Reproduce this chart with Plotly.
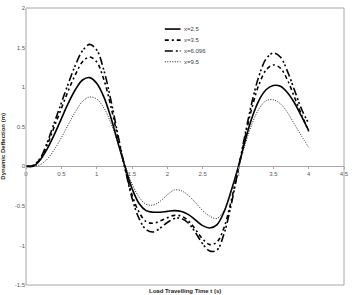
import plotly.graph_objects as go

t = [round(0.1 * i, 1) for i in range(41)]

s_2_5 = [0, 0.0, 0.08, 0.22, 0.40, 0.60, 0.80, 0.97, 1.09, 1.12, 1.05, 0.88, 0.62, 0.30, 0.0,
         -0.28, -0.47, -0.56, -0.58, -0.58, -0.57, -0.56, -0.57, -0.61, -0.68, -0.75, -0.78,
         -0.74, -0.58, -0.32, -0.02, 0.32, 0.62, 0.84, 0.97, 1.02, 1.01, 0.93, 0.80, 0.63, 0.45]
s_3_5 = [0, 0.01, 0.09, 0.27, 0.50, 0.73, 0.96, 1.16, 1.32, 1.38, 1.32, 1.10, 0.76, 0.36, -0.02,
         -0.36, -0.58, -0.70, -0.72, -0.69, -0.65, -0.62, -0.63, -0.69, -0.80, -0.92, -0.99,
         -0.96, -0.78, -0.45, -0.05, 0.37, 0.75, 1.04, 1.22, 1.28, 1.24, 1.09, 0.87, 0.65, 0.44]
s_6_096 = [0, 0.01, 0.10, 0.30, 0.55, 0.80, 1.05, 1.28, 1.46, 1.54, 1.47, 1.22, 0.84, 0.40, -0.02,
           -0.40, -0.66, -0.80, -0.83, -0.78, -0.71, -0.66, -0.66, -0.72, -0.84, -0.98, -1.07,
           -1.06, -0.86, -0.50, -0.06, 0.40, 0.82, 1.15, 1.36, 1.43, 1.38, 1.20, 0.96, 0.72, 0.54]
s_9_5 = [0, 0.0, 0.02, 0.09, 0.21, 0.36, 0.53, 0.69, 0.82, 0.875, 0.85, 0.74, 0.55, 0.29, 0.02,
         -0.22, -0.39, -0.48, -0.49, -0.44, -0.36, -0.30, -0.31, -0.37, -0.46, -0.56, -0.63,
         -0.66, -0.56, -0.33, -0.04, 0.27, 0.54, 0.73, 0.83, 0.84, 0.79, 0.68, 0.53, 0.38, 0.24]

names = ["x=2.5", "x=3.5", "x=6.096", "x=9.5"]
x_tickvals = [0, 0.5, 1, 1.5, 2, 2.5, 3, 3.5, 4, 4.5]
x_ticktext = ["0", "0.5", "1", "1.5", "2", "2.5", "3", "3.5", "4", "4.5"]
y_tickvals = [-1.5, -1, -0.5, 0, 0.5, 1, 1.5, 2]
y_ticktext = ["-1.5", "-1", "-0.5", "0", "0.5", "1", "1.5", "2"]

styles = [
    dict(color="black", width=1.6, dash="solid"),
    dict(color="black", width=1.6, dash="4px,3px,2px,3px"),
    dict(color="black", width=1.6, dash="8px,3px,2px,2px,2px,3px"),
    dict(color="#222222", width=1, dash="1px,1.5px"),
]

fig = go.Figure()
for name, ys, st in zip(names, [s_2_5, s_3_5, s_6_096, s_9_5], styles):
    fig.add_trace(go.Scatter(x=t, y=ys, mode="lines", name=name, line=st,
                             line_shape="spline", showlegend=False))

# manual compact legend (paper coordinates)
shapes = [dict(type="rect", xref="paper", yref="paper", x0=0, y0=0, x1=1, y1=1,
               line=dict(color="#a6a6a6", width=1))]
annotations = []
leg_y = [0.924, 0.884, 0.845, 0.806]
for name, st, yy in zip(names, styles, leg_y):
    shapes.append(dict(type="line", xref="paper", yref="paper", x0=0.4365, x1=0.486, y0=yy, y1=yy,
                       line=dict(color=st["color"], width=st["width"], dash=st["dash"])))
    annotations.append(dict(text=name, xref="paper", yref="paper", x=0.491, y=yy, xanchor="left",
                            yanchor="middle", showarrow=False, font=dict(size=6, color="#404040")))

annotations += [
    dict(text="<b>Load Travelling Time t (s)</b>", xref="paper", yref="paper", x=0.5, y=-0.005,
         yanchor="top", showarrow=False, font=dict(size=6, color="#262626")),
    dict(text="<b>Dynamic Deflection (m)</b>", xref="paper", yref="paper", x=-0.075, y=0.5,
         textangle=-90, showarrow=False, xanchor="center", font=dict(size=6, color="#262626")),
]

font = "Liberation Sans"
fig.update_layout(
    width=354, height=295,
    margin=dict(l=26, r=5, t=8, b=10),
    paper_bgcolor="white", plot_bgcolor="white",
    font=dict(family=font, size=6, color="#404040"),
    showlegend=False,
    xaxis=dict(range=[0, 4.5], tickvals=x_tickvals, ticktext=x_ticktext, showgrid=False,
               zeroline=False, showline=False, anchor="free", position=1.5 / 3.5,
               ticks="outside", ticklen=2, tickcolor="#a6a6a6", tickfont=dict(size=6, color="#595959")),
    yaxis=dict(range=[-1.5, 2], tickvals=y_tickvals, ticktext=y_ticktext, showgrid=False,
               zeroline=True, zerolinecolor="#a6a6a6", zerolinewidth=1,
               showline=False, ticks="", tickfont=dict(size=6, color="#595959")),
    shapes=shapes,
    annotations=annotations,
)
fig.write_html("out.html")
